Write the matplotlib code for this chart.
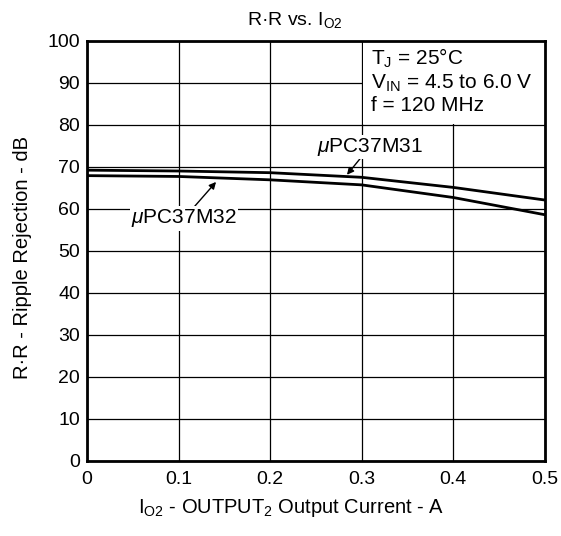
import matplotlib
matplotlib.use('Agg')
import matplotlib.pyplot as plt
from matplotlib.patches import Rectangle

plt.rcParams['font.family'] = ['Liberation Sans', 'DejaVu Sans']
plt.rcParams['mathtext.fontset'] = 'custom'
plt.rcParams['mathtext.rm'] = 'Liberation Sans'
plt.rcParams['mathtext.it'] = 'Liberation Sans:italic'

# output current (A)
current = [0.0, 0.1, 0.2, 0.3, 0.4, 0.5]
# ripple rejection (dB)
rr_m31 = [69.2, 69.0, 68.6, 67.5, 65.1, 62.1]
rr_m32 = [67.9, 67.7, 66.9, 65.7, 62.7, 58.6]
xticks = [0, 0.1, 0.2, 0.3, 0.4, 0.5]
yticks = [0, 10, 20, 30, 40, 50, 60, 70, 80, 90, 100]

fig = plt.figure(figsize=(5.61, 5.36), dpi=100)
ax = fig.add_axes([0.155, 0.140, 0.816, 0.784])

ax.set_xlim(0, 0.5)
ax.set_ylim(0, 100)
ax.set_xticks(xticks)
ax.set_xticklabels(['0', '0.1', '0.2', '0.3', '0.4', '0.5'])
ax.set_yticks(yticks)
ax.tick_params(length=0, labelsize=14)
ax.tick_params(axis='x', pad=7)
ax.tick_params(axis='y', pad=5)
ax.grid(True, color='black', linewidth=0.9)
ax.set_axisbelow(True)
for s in ax.spines.values():
    s.set_linewidth(2)

ax.plot(current, rr_m31, color='black', linewidth=2, zorder=3)
ax.plot(current, rr_m32, color='black', linewidth=2, zorder=3)

# condition box (white, hides grid)
ax.add_patch(Rectangle((0.301, 80.3), 0.2, 20, facecolor='white',
                       edgecolor='none', zorder=2))
ax.text(0.310, 98.6,
        'T$_{\\mathrm{J}}$ = 25°C\nV$_{\\mathrm{IN}}$ = 4.5 to 6.0 V\nf = 120 MHz',
        fontsize=15, va='top', ha='left', linespacing=1.17, zorder=4)

ax.annotate('$\\mu$PC37M31', xy=(0.284, 68.1), xytext=(0.309, 74.8),
            fontsize=15, ha='center', va='center', zorder=4,
            bbox=dict(boxstyle='square,pad=0.05', fc='white', ec='none'),
            arrowprops=dict(arrowstyle='-|>', color='black', lw=1,
                            mutation_scale=10, shrinkA=0, shrinkB=0))
ax.annotate('$\\mu$PC37M32', xy=(0.141, 66.4), xytext=(0.106, 57.7),
            fontsize=15, ha='center', va='center', zorder=4,
            bbox=dict(boxstyle='square,pad=0.05', fc='white', ec='none'),
            arrowprops=dict(arrowstyle='-|>', color='black', lw=1,
                            mutation_scale=10, shrinkA=0, shrinkB=0))

ax.text(0.454, 1.05, 'R·R vs. I$_{\\mathrm{O2}}$', fontsize=14,
        ha='center', va='center', transform=ax.transAxes)
ax.set_ylabel('R·R - Ripple Rejection - dB', fontsize=14.5)
ax.yaxis.set_label_coords(-0.14, 0.483)
ax.set_xlabel('I$_{\\mathrm{O2}}$ - OUTPUT$_{\\mathrm{2}}$ Output Current - A',
              fontsize=14.5)
ax.xaxis.set_label_coords(0.445, -0.112)
ax.xaxis.label.set_va('center')
ax.yaxis.label.set_va('center')

fig.savefig('out.png', dpi=100, facecolor='white')
